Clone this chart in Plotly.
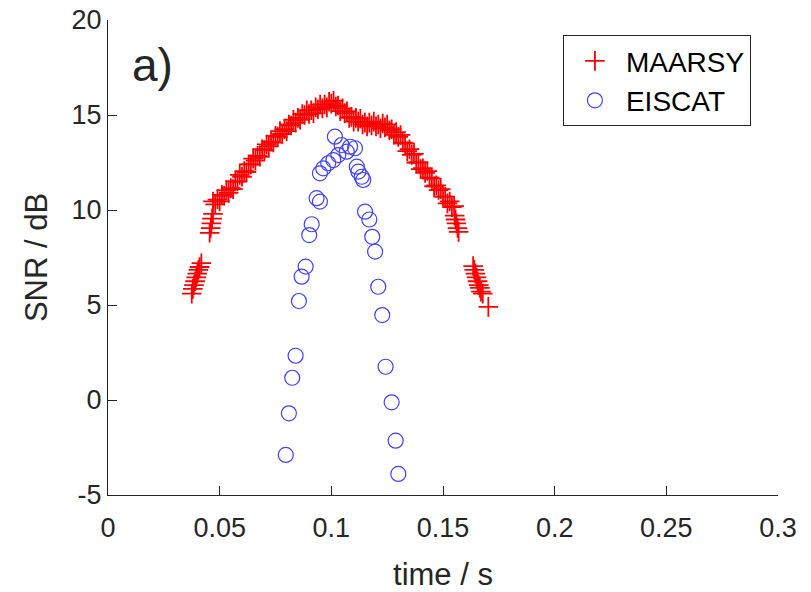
import plotly.graph_objects as go

# MAARSY (red plus markers)
maarsy_t = [
    0.0375, 0.0380, 0.0385, 0.0390, 0.0395, 0.0400, 0.0405, 0.0410, 0.0418,
    0.0455, 0.0460, 0.0463, 0.0466, 0.0470,
    0.047, 0.048, 0.049, 0.050, 0.051, 0.052, 0.053, 0.054, 0.055, 0.056,
    0.057, 0.058, 0.059, 0.060, 0.061, 0.062, 0.063, 0.064, 0.065, 0.066,
    0.067, 0.068, 0.069, 0.070, 0.071, 0.072, 0.073, 0.074, 0.075, 0.076,
    0.077, 0.078, 0.079, 0.080, 0.081, 0.082, 0.083, 0.084, 0.085, 0.086,
    0.087, 0.088, 0.089, 0.090, 0.091, 0.092, 0.093, 0.094, 0.095, 0.096,
    0.097, 0.098, 0.099, 0.100, 0.101, 0.102, 0.103, 0.104, 0.105, 0.106,
    0.107, 0.108, 0.109, 0.110, 0.111, 0.112, 0.113, 0.114, 0.115, 0.116,
    0.117, 0.118, 0.119, 0.120, 0.121, 0.122, 0.123, 0.124, 0.125, 0.126,
    0.127, 0.128, 0.129, 0.130, 0.131, 0.132, 0.133, 0.134, 0.135, 0.136,
    0.137, 0.138, 0.139, 0.140, 0.141, 0.142, 0.143, 0.144, 0.145, 0.146,
    0.147, 0.148, 0.149, 0.150, 0.151, 0.152, 0.153, 0.154, 0.155,
    0.1552, 0.1556, 0.1560, 0.1565, 0.1570,
    0.1635, 0.1640, 0.1645, 0.1650, 0.1655, 0.1660, 0.1665, 0.1670, 0.1678,
    0.1703,
]
maarsy_snr = [
    5.60, 5.85, 6.05, 6.25, 6.45, 6.65, 6.85, 7.00, 7.20,
    8.80, 9.05, 9.30, 9.55, 9.80,
    10.45, 10.30, 10.55, 10.45, 10.80, 10.75, 11.05, 10.90, 11.15, 11.10,
    11.50, 11.50, 11.85, 11.75, 12.05, 12.00, 12.40, 12.40, 12.70, 12.60,
    12.85, 12.80, 13.20, 13.15, 13.45, 13.35, 13.60, 13.55, 13.90, 13.85,
    14.15, 14.00, 14.25, 14.15, 14.50, 14.45, 14.75, 14.60, 14.85, 14.75,
    15.05, 15.00, 15.25, 15.05, 15.25, 15.10, 15.40, 15.30, 15.55, 15.35,
    15.55, 15.40, 15.70, 15.60, 15.75, 15.45, 15.50, 15.20, 15.35, 15.10,
    15.20, 14.85, 14.90, 14.65, 14.85, 14.65, 14.80, 14.50, 14.60, 14.40,
    14.60, 14.45, 14.65, 14.40, 14.50, 14.30, 14.55, 14.35, 14.50, 14.20,
    14.25, 13.95, 14.10, 13.85, 13.95, 13.55, 13.50, 13.10, 13.20, 12.90,
    12.95, 12.50, 12.50, 12.15, 12.20, 11.95, 12.05, 11.70, 11.65, 11.25,
    11.30, 11.05, 11.10, 10.70, 10.70, 10.35, 10.45, 10.15, 10.20,
    9.70, 9.50, 9.30, 9.05, 8.85,
    7.05, 6.85, 6.65, 6.45, 6.25, 6.05, 5.90, 5.70, 5.60,
    4.90,
]

# EISCAT (blue open circles)
eiscat_t = [
    0.0796, 0.0810, 0.0825, 0.0840, 0.0855, 0.0867, 0.0885, 0.0901, 0.0912,
    0.0934, 0.0949, 0.0949, 0.0964, 0.0986, 0.1009, 0.1016, 0.1031, 0.1046,
    0.1069, 0.1084, 0.1106, 0.1114, 0.1121, 0.1136, 0.1143, 0.1151, 0.1170,
    0.1183, 0.1196, 0.1210, 0.1228, 0.1243, 0.1270, 0.1288, 0.1300,
]
eiscat_snr = [
    -2.89, -0.70, 1.17, 2.33, 5.21, 6.49, 7.02, 8.68, 9.25,
    10.62, 10.44, 11.93, 12.19, 12.46, 12.63, 13.86, 12.89, 13.42,
    13.07, 13.33, 13.25, 12.28, 12.02, 11.75, 11.58, 9.91, 9.50,
    8.59, 7.81, 5.96, 4.47, 1.75, -0.12, -2.14, -3.89,
]

x_ticks = [0, 0.05, 0.1, 0.15, 0.2, 0.25, 0.3]
x_tick_labels = ["0", "0.05", "0.1", "0.15", "0.2", "0.25", "0.3"]
y_ticks = [-5, 0, 5, 10, 15, 20]
y_tick_labels = ["-5", "0", "5", "10", "15", "20"]

FONT = "Liberation Sans, Arial, Helvetica, sans-serif"
AX = "#262626"

fig = go.Figure()
fig.add_trace(go.Scatter(
    x=maarsy_t, y=maarsy_snr, mode="markers", name="MAARSY",
    marker=dict(symbol="cross-thin", size=14, color="#ff0000",
                line=dict(color="#ff0000", width=1.8)),
))
fig.add_trace(go.Scatter(
    x=eiscat_t, y=eiscat_snr, mode="markers", name="EISCAT",
    marker=dict(symbol="circle-open", size=15, color="#4040ff",
                line=dict(color="#4040ff", width=1.2)),
))

fig.add_annotation(x=0.010, y=17.65, xref="x", yref="y", text="a)",
                   showarrow=False, xanchor="left", yanchor="middle",
                   font=dict(family=FONT, size=46, color=AX))

fig.update_layout(
    width=811, height=592,
    margin=dict(l=108, r=33, t=20, b=97),
    paper_bgcolor="white", plot_bgcolor="white",
    font=dict(family=FONT, color=AX),
    showlegend=True,
    legend=dict(x=0.679, y=0.968, xanchor="left", yanchor="top",
                bgcolor="white", bordercolor=AX, borderwidth=1,
                font=dict(family=FONT, size=28, color="black"),
                itemwidth=52),
    xaxis=dict(range=[0, 0.3], tickvals=x_ticks, ticktext=x_tick_labels,
               showgrid=False, zeroline=False, showline=True, linecolor=AX,
               linewidth=1, ticks="inside", ticklen=9, tickcolor=AX,
               automargin=False, ticklabelstandoff=9,
               tickfont=dict(family=FONT, size=27, color=AX),
               title=dict(text="time / s", font=dict(family=FONT, size=31, color=AX),
                          standoff=20)),
    yaxis=dict(range=[-5, 20], tickvals=y_ticks, ticktext=y_tick_labels,
               showgrid=False, zeroline=False, showline=True, linecolor=AX,
               linewidth=1, ticks="inside", ticklen=9, tickcolor=AX,
               automargin=False,
               tickfont=dict(family=FONT, size=27, color=AX),
               title=dict(text="SNR / dB", font=dict(family=FONT, size=31, color=AX),
                          standoff=14)),
)

# remove the browser's default 8px body margin so the figure fills the window
fig.write_html("out.html",
               config={"displayModeBar": False},
               post_script="document.body.style.margin='0';")
